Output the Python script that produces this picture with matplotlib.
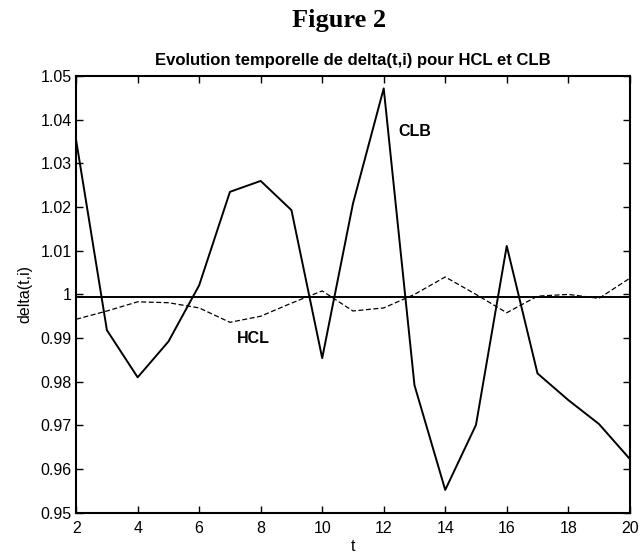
import matplotlib
matplotlib.use("Agg")
import matplotlib.pyplot as plt

plt.rcParams["font.family"] = ["Liberation Sans", "DejaVu Sans"]

t = list(range(2, 21))

# CLB (solid line)
clb = [1.0353, 0.9918, 0.9810, 0.9892, 1.0021, 1.0235, 1.0260, 1.0193, 0.9854,
       1.0208, 1.0472, 0.9792, 0.9552, 0.9701, 1.0111, 0.9819, 0.9758, 0.9703, 0.9623]

# HCL (dashed line)
hcl = [0.9943, 0.9962, 0.9983, 0.9981, 0.9969, 0.9936, 0.9950, 0.9980, 1.0008,
       0.9962, 0.9969, 1.0000, 1.0040, 1.0000, 0.9958, 0.9996, 1.0000, 0.9991, 1.0037]

ref_level = 0.9994

xticks = [2, 4, 6, 8, 10, 12, 14, 16, 18, 20]
yticks = [0.95, 0.96, 0.97, 0.98, 0.99, 1.0, 1.01, 1.02, 1.03, 1.04, 1.05]
ytick_labels = ["0.95", "0.96", "0.97", "0.98", "0.99", "1", "1.01", "1.02", "1.03", "1.04", "1.05"]

fig = plt.figure(figsize=(6.4, 5.56), dpi=100)
ax = fig.add_axes([0.119, 0.078, 0.865, 0.785])

ax.plot(t, clb, color="black", linewidth=1.4)
ax.plot(t, hcl, color="black", linewidth=0.9, linestyle=(0, (4, 2)))
ax.axhline(ref_level, color="black", linewidth=1.4)

ax.text(13.0, 1.0373, "CLB", fontsize=11.5, fontweight="bold", ha="center", va="center")
ax.text(7.76, 0.9899, "HCL", fontsize=11.5, fontweight="bold", ha="center", va="center")

ax.set_xlim(2, 20)
ax.set_ylim(0.95, 1.05)
ax.set_xticks(xticks)
ax.set_xticklabels([str(x) for x in xticks])
ax.set_yticks(yticks)
ax.set_yticklabels(ytick_labels)
ax.tick_params(direction="in", length=5, width=1, top=True, right=True, labelsize=11.5)
ax.tick_params(axis="x", pad=6)
ax.tick_params(axis="y", pad=3)

for s in ax.spines.values():
    s.set_linewidth(1.5)

ax.set_xlabel("t", fontsize=11.5, labelpad=2)
ax.set_ylabel("delta(t,i)", fontsize=11.5, labelpad=6)
ax.set_title("Evolution temporelle de delta(t,i) pour HCL et CLB",
             fontsize=12, fontweight="bold", pad=8)

fig.text(0.53, 0.964, "Figure 2", fontsize=19, fontweight="bold",
         family=["Liberation Serif", "DejaVu Serif"], ha="center", va="center")

fig.savefig("out.png", dpi=100)
